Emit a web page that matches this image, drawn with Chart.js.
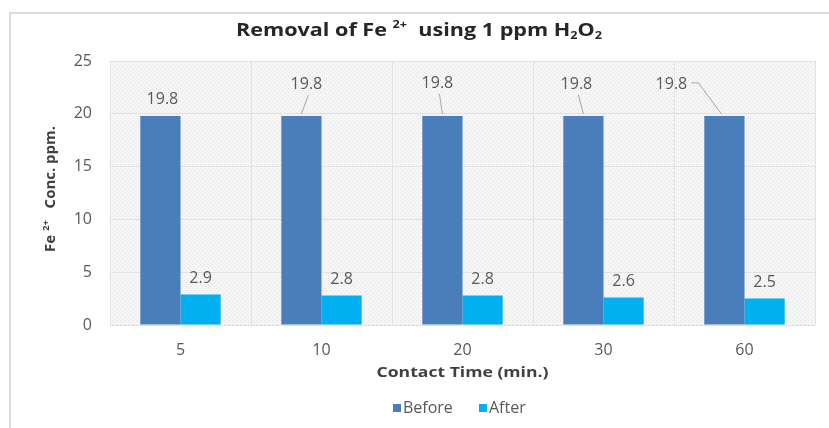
<!DOCTYPE html>
<html>
<head>
<meta charset="utf-8">
<script src="https://cdn.jsdelivr.net/npm/chart.js@4"></script>
<style>
  html, body { margin: 0; padding: 0; background: #fff; overflow: hidden; }
  #frame { position: absolute; left: 9px; top: 12px; width: 860px; height: 460px; border: 2px solid #dcdcdc; box-sizing: border-box; }
  #wrap { position: absolute; left: 0; top: 0; width: 829px; height: 428px; }
</style>
</head>
<body>
<div id="frame"></div>
<div id="wrap"><canvas id="chart" width="829" height="428"></canvas></div>
<script>
// data
var contactTimes = ['5', '10', '20', '30', '60'];
var beforeConc = [19.8, 19.8, 19.8, 19.8, 19.8];
var afterConc = [2.9, 2.8, 2.8, 2.6, 2.5];
var yTicks = [0, 5, 10, 15, 20, 25];

var FONT = '"Open Sans", sans-serif';
var TEXT_GRAY = '#595959';
var BLUE = '#4a7ebb', CYAN = '#00b0f0';

// where the "Before" labels were dragged to in the original (px from default spot)
var beforeLabelShift = [[2, 0], [5, -15], [-5, -16], [-7, -15], [-53, -15]];

// light dotted texture of the plot area
function makePattern(ctx) {
  var p = document.createElement('canvas');
  p.width = 4; p.height = 4;
  var g = p.getContext('2d');
  g.fillStyle = '#f6f6f6';
  g.fillRect(0, 0, 4, 4);
  g.fillStyle = '#e2e2e2';
  g.fillRect(0, 0, 1, 1);
  g.fillRect(2, 2, 1, 1);
  return ctx.createPattern(p, 'repeat');
}

// draws a row of text pieces (some raised / lowered), centred on x,
// squeezed or stretched to the given width when one is given
function drawPieces(ctx, pieces, x, y, width) {
  var total = 0;
  pieces.forEach(function (p) {
    ctx.font = p.font;
    total += ctx.measureText(p.t).width;
  });
  var sx = width ? width / total : 1;
  ctx.save();
  ctx.translate(x, y);
  ctx.scale(sx, 1);
  var cx = -total / 2;
  pieces.forEach(function (p) {
    ctx.font = p.font;
    ctx.fillText(p.t, cx, p.dy || 0);
    cx += ctx.measureText(p.t).width;
  });
  ctx.restore();
}

var backgroundPlugin = {
  id: 'plotBg',
  beforeDraw: function (chart) {
    var ctx = chart.ctx, a = chart.chartArea;
    ctx.save();
    ctx.fillStyle = makePattern(ctx);
    ctx.fillRect(a.left, a.top, a.right - a.left, a.bottom - a.top);
    ctx.restore();
  }
};

var textPlugin = {
  id: 'texts',
  afterDraw: function (chart) {
    var ctx = chart.ctx, a = chart.chartArea;
    ctx.save();
    ctx.textBaseline = 'middle';
    ctx.textAlign = 'left';

    // chart title
    ctx.fillStyle = '#262626';
    var big = 'bold 17px ' + FONT, small = 'bold 10px ' + FONT;
    drawPieces(ctx, [
      { t: 'Removal of Fe ', font: big },
      { t: '2+', font: small, dy: -6 },
      { t: '  using 1 ppm H', font: big },
      { t: '2', font: small, dy: 5 },
      { t: 'O', font: big },
      { t: '2', font: small, dy: 5 }
    ], 419, 31, 366);

    // x axis title
    ctx.fillStyle = '#404040';
    drawPieces(ctx, [{ t: 'Contact Time (min.)', font: 'bold 14px ' + FONT }],
      (a.left + a.right) / 2, 373, 172);

    // y axis title
    ctx.save();
    ctx.translate(51, 189);
    ctx.rotate(-Math.PI / 2);
    drawPieces(ctx, [
      { t: 'Fe ', font: 'bold 14px ' + FONT },
      { t: '2+', font: 'bold 9px ' + FONT, dy: -5 },
      { t: '   Conc. ppm.', font: 'bold 14px ' + FONT }
    ], 0, 0, 126);
    ctx.restore();

    // legend
    var items = [['Before', BLUE, 393], ['After', CYAN, 479]];
    items.forEach(function (it) {
      ctx.fillStyle = it[1];
      ctx.fillRect(it[2], 404, 8, 8);
      ctx.fillStyle = TEXT_GRAY;
      ctx.font = '16px ' + FONT;
      ctx.fillText(it[0], it[2] + 10, 408);
    });

    // data labels
    ctx.font = '16px ' + FONT;
    ctx.textAlign = 'center';
    ctx.fillStyle = TEXT_GRAY;
    ctx.strokeStyle = '#a6a6a6';
    ctx.lineWidth = 1;
    chart.data.datasets.forEach(function (ds, di) {
      var meta = chart.getDatasetMeta(di);
      meta.data.forEach(function (bar, i) {
        var shift = di === 0 ? beforeLabelShift[i] : [0, 0];
        var lx = bar.x + shift[0], ly = bar.y - 16 + shift[1];
        if (shift[1] < -5) {
          ctx.beginPath();
          if (shift[0] < -30) {
            ctx.moveTo(lx + 20, ly - 2);
            ctx.lineTo(lx + 27, ly - 2);
            ctx.lineTo(bar.x - 3, bar.y - 2);
          } else {
            ctx.moveTo(lx + 2, ly + 10);
            ctx.lineTo(bar.x, bar.y - 2);
          }
          ctx.stroke();
        }
        ctx.fillText(String(ds.data[i]), lx, ly);
      });
    });
    ctx.restore();
  }
};

new Chart(document.getElementById('chart'), {
  type: 'bar',
  data: {
    labels: contactTimes,
    datasets: [
      { label: 'Before', data: beforeConc, backgroundColor: BLUE, borderWidth: 0 },
      { label: 'After', data: afterConc, backgroundColor: CYAN, borderWidth: 0 }
    ]
  },
  options: {
    responsive: false,
    animation: false,
    devicePixelRatio: 1,
    layout: { padding: { left: 20, right: 14, top: 61, bottom: 63 } },
    categoryPercentage: 0.57,
    barPercentage: 1.0,
    plugins: {
      title: { display: false },
      tooltip: { enabled: false },
      legend: { display: false }
    },
    scales: {
      x: {
        grid: { color: '#e2e2e2', drawTicks: false },
        border: { display: false },
        ticks: { color: TEXT_GRAY, padding: 16, font: { family: FONT, size: 16 } },
        afterFit: function (s) { s.height = 40; }
      },
      y: {
        min: 0, max: 25,
        afterBuildTicks: function (s) { s.ticks = yTicks.map(function (v) { return { value: v }; }); },
        grid: { color: '#e2e2e2', drawTicks: false },
        border: { display: false },
        ticks: { color: TEXT_GRAY, padding: 18, font: { family: FONT, size: 16 } },
        afterFit: function (s) { s.width = 90; }
      }
    }
  },
  plugins: [backgroundPlugin, textPlugin]
});
</script>
</body>
</html>
